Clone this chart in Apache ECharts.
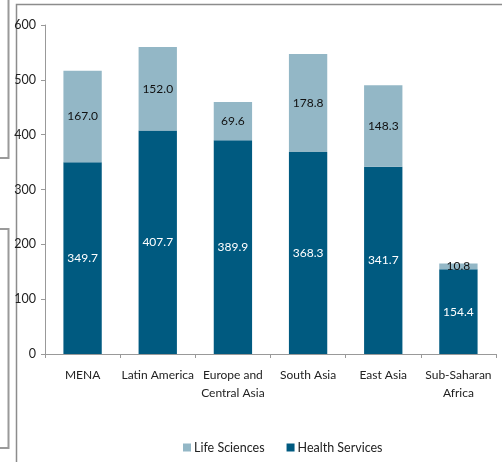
<!DOCTYPE html>
<html><head><meta charset="utf-8">
<script src="https://cdn.jsdelivr.net/npm/echarts@6/dist/echarts.min.js"></script>
<style>html,body{margin:0;padding:0;background:#fff}#c{width:502px;height:462px}</style>
</head><body><div id="c"></div>
<script>
var categories = ['MENA', 'Latin America', 'Europe and\nCentral Asia', 'South Asia', 'East Asia', 'Sub-Saharan\nAfrica'];
var healthServices = [349.7, 407.7, 389.9, 368.3, 341.7, 154.4];
var lifeSciences = [167.0, 152.0, 69.6, 178.8, 148.3, 10.8];
var yTicks = [0, 100, 200, 300, 400, 500, 600];

var font = 'Lato';
var chart = echarts.init(document.getElementById('c'));
chart.setOption({
  animation: false,
  textStyle: {fontFamily: font},
  graphic: [
    {type: 'rect', shape: {x: 16.5, y: 4.5, width: 520, height: 480}, style: {fill: 'none', stroke: '#8c8c8c', lineWidth: 1.5}, silent: true},
    {type: 'rect', shape: {x: -10, y: -10, width: 18.5, height: 168}, style: {fill: 'none', stroke: '#9a9a9a', lineWidth: 2}, silent: true},
    {type: 'rect', shape: {x: -10, y: 229, width: 18.5, height: 219}, style: {fill: 'none', stroke: '#9a9a9a', lineWidth: 2}, silent: true}
  ],
  grid: {left: 45, right: 6, top: 25, bottom: 108, containLabel: false},
  legend: {
    data: ['Life Sciences', 'Health Services'],
    bottom: 3, left: 178,
    itemWidth: 8, itemHeight: 8, itemGap: 22,
    icon: 'rect',
    textStyle: {fontFamily: font, fontSize: 12.5, color: '#222', padding: [0, 0, 0, -2]}
  },
  xAxis: {
    type: 'category', data: categories,
    axisLine: {lineStyle: {color: '#999'}},
    axisTick: {show: true, length: 4, lineStyle: {color: '#999'}},
    axisLabel: {color: '#222', fontSize: 12, margin: 12, lineHeight: 18, interval: 0}
  },
  yAxis: {
    type: 'value', min: yTicks[0], max: yTicks[yTicks.length - 1], interval: 100,
    axisLine: {show: true, lineStyle: {color: '#999'}},
    axisTick: {show: true, length: 4, lineStyle: {color: '#999'}},
    splitLine: {show: false},
    axisLabel: {color: '#222', fontSize: 12.5, margin: 9}
  },
  series: [
    {
      name: 'Health Services', type: 'bar', stack: 'a', data: healthServices,
      barWidth: '51%',
      itemStyle: {color: '#005a80'},
      label: {show: true, position: 'inside', color: '#fff', fontSize: 12, formatter: function (p) { return p.value.toFixed(1); }}
    },
    {
      name: 'Life Sciences', type: 'bar', stack: 'a', data: lifeSciences,
      itemStyle: {color: '#93b7c6'},
      label: {show: true, position: 'inside', color: '#111', fontSize: 12, formatter: function (p) { return p.value.toFixed(1); }}
    }
  ]
});
</script></body></html>
